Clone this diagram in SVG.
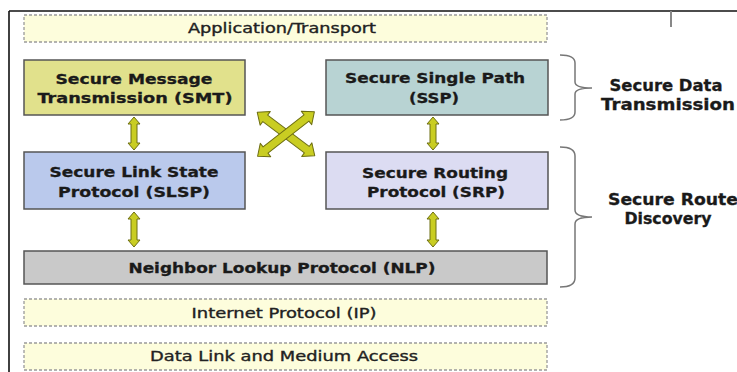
<svg xmlns="http://www.w3.org/2000/svg" width="737" height="372" viewBox="0 0 737 372">
  <style>
    .box { stroke: #555; stroke-width: 1.5; }
    .layer { fill: #fdfddc; stroke: #9a9a9a; stroke-width: 1.3; stroke-dasharray: 3 2; }
    .t { font-family: "DejaVu Sans", Verdana, sans-serif; font-weight: bold; font-size: 14px; fill: #1a1a1a; stroke: #1a1a1a; stroke-width: 0.3; text-anchor: middle; }
    .tl { font-family: "DejaVu Sans", Verdana, sans-serif; font-weight: normal; font-size: 13.5px; fill: #222; stroke: #222; stroke-width: 0.35; text-anchor: middle; }
    .side { font-family: "DejaVu Sans", Verdana, sans-serif; font-weight: bold; font-size: 15px; fill: #1a1a1a; stroke: #1a1a1a; stroke-width: 0.3; text-anchor: middle; }
    .arrow { fill: #c9cd22; stroke: #6d6e12; stroke-width: 1; stroke-linejoin: round; }
    .brace { fill: none; stroke: #777; stroke-width: 1.5; }
  </style>
  <defs>
    <path id="diag" d="M -36,0 L -26,-8.5 L -26,-4 L 26,-4 L 26,-8.5 L 36,0 L 26,8.5 L 26,4 L -26,4 L -26,8.5 Z"/>
  </defs>

  <rect width="737" height="372" fill="#ffffff"/>

  <!-- frame -->
  <g id="frame" stroke-linecap="butt">
    <line x1="9" y1="11" x2="737" y2="11" stroke="#111" stroke-width="1.6"/>
    <line x1="9" y1="11" x2="9" y2="372" stroke="#111" stroke-width="1.6"/>
    <line x1="671" y1="11" x2="671" y2="27" stroke="#888" stroke-width="2"/>
  </g>

  <g id="app">
    <rect class="layer" x="24" y="15" width="523" height="27"/>
    <text class="tl" x="282" y="33" textLength="188" lengthAdjust="spacingAndGlyphs">Application/Transport</text>
  </g>

  <g id="smt">
    <rect class="box" x="24" y="60" width="221" height="55" fill="#e1e18c"/>
    <text class="t" x="134" y="84" textLength="157" lengthAdjust="spacingAndGlyphs">Secure Message</text>
    <text class="t" x="135" y="103" textLength="195" lengthAdjust="spacingAndGlyphs">Transmission (SMT)</text>
  </g>

  <g id="ssp">
    <rect class="box" x="326" y="60" width="222" height="55" fill="#b8d3d3"/>
    <text class="t" x="435" y="83" textLength="180" lengthAdjust="spacingAndGlyphs">Secure Single Path</text>
    <text class="t" x="434" y="103" textLength="50" lengthAdjust="spacingAndGlyphs">(SSP)</text>
  </g>

  <g id="slsp">
    <rect class="box" x="24" y="152" width="221" height="57" fill="#bac9ec"/>
    <text class="t" x="134" y="177" textLength="169" lengthAdjust="spacingAndGlyphs">Secure Link State</text>
    <text class="t" x="134" y="197" textLength="152" lengthAdjust="spacingAndGlyphs">Protocol (SLSP)</text>
  </g>

  <g id="srp">
    <rect class="box" x="326" y="152" width="222" height="57" fill="#dcdcf2"/>
    <text class="t" x="435" y="178" textLength="146" lengthAdjust="spacingAndGlyphs">Secure Routing</text>
    <text class="t" x="436" y="197" textLength="138" lengthAdjust="spacingAndGlyphs">Protocol (SRP)</text>
  </g>

  <g id="nlp">
    <rect class="box" x="24" y="251" width="523" height="33" fill="#c9c9c9"/>
    <text class="t" x="282" y="273" textLength="307" lengthAdjust="spacingAndGlyphs">Neighbor Lookup Protocol (NLP)</text>
  </g>

  <g id="ip">
    <rect class="layer" x="24" y="299" width="523" height="27"/>
    <text class="tl" x="284" y="318" textLength="185" lengthAdjust="spacingAndGlyphs">Internet Protocol (IP)</text>
  </g>

  <g id="datalink">
    <rect class="layer" x="24" y="343" width="523" height="27"/>
    <text class="tl" x="284" y="361" textLength="268" lengthAdjust="spacingAndGlyphs">Data Link and Medium Access</text>
  </g>

  <g id="connectors">
    <!-- vertical double arrows -->
    <path class="arrow" d="M134,117 L140,124 L137,124 L137,143 L140,143 L134,150 L128,143 L131,143 L131,124 L128,124 Z"/>
    <path class="arrow" d="M433,117 L439,124 L436,124 L436,143 L439,143 L433,150 L427,143 L430,143 L430,124 L427,124 Z"/>
    <path class="arrow" d="M134,212 L140,219 L137,219 L137,240 L140,240 L134,247 L128,240 L131,240 L131,219 L128,219 Z"/>
    <path class="arrow" d="M433,212 L439,219 L436,219 L436,240 L439,240 L433,247 L427,240 L430,240 L430,219 L427,219 Z"/>
    <!-- crossing arrows -->
    <use href="#diag" class="arrow" transform="translate(286,134) rotate(37)"/>
    <use href="#diag" class="arrow" transform="translate(286,134) rotate(-38)"/>
  </g>

  <g id="group-data">
    <path class="brace" d="M560,55 Q575,55 575,63 L575,82 Q575,88 592,88 Q575,88 575,94 L575,112 Q575,120 560,120"/>
    <text class="side" x="666" y="91" textLength="113" lengthAdjust="spacingAndGlyphs">Secure Data</text>
    <text class="side" x="668" y="110" textLength="134" lengthAdjust="spacingAndGlyphs">Transmission</text>
  </g>

  <g id="group-route">
    <path class="brace" d="M560,147 Q575,147 575,156 L575,210 Q575,217 592,217 Q575,217 575,224 L575,278 Q575,287 560,287"/>
    <text class="side" x="673" y="205" textLength="130" lengthAdjust="spacingAndGlyphs">Secure Route</text>
    <text class="side" x="668" y="224" textLength="87" lengthAdjust="spacingAndGlyphs">Discovery</text>
  </g>
</svg>
